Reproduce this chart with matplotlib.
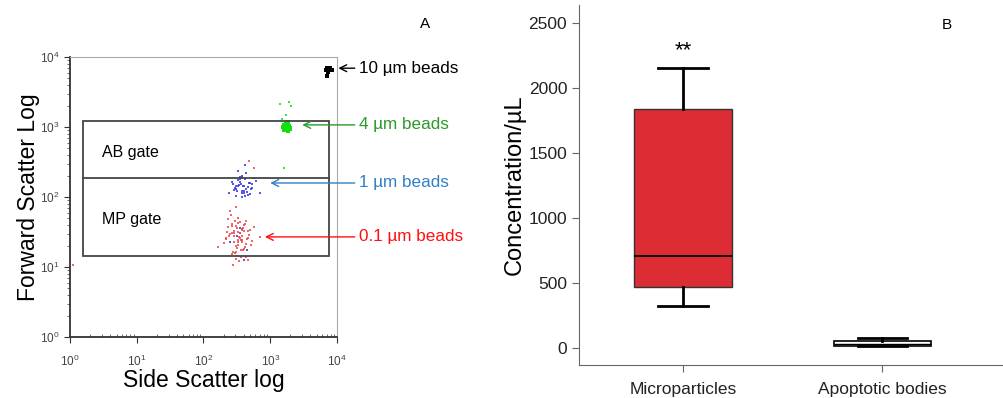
import numpy as np
import matplotlib
matplotlib.use("Agg")
import matplotlib.pyplot as plt
from matplotlib.patches import Rectangle

plt.rcParams['font.family'] = ['Liberation Sans', 'DejaVu Sans']
plt.rcParams['mathtext.fontset'] = 'custom'
plt.rcParams['mathtext.rm'] = 'Liberation Sans'

# ---- panel A data (log10 of side scatter / forward scatter) ----
red_x = [2.38, 2.45, 2.52, 2.60, 2.48, 2.55, 2.42, 2.66, 2.50, 2.57, 2.35, 2.62, 2.47, 2.53, 2.70,
         2.44, 2.58, 2.51, 2.40, 2.64, 2.49, 2.56, 2.33, 2.61, 2.46, 2.54, 2.68, 2.43, 2.59, 2.52,
         2.37, 2.65, 2.48, 2.55, 2.41, 2.72, 2.50, 2.57, 2.45, 2.62, 2.30, 2.53, 2.76, 2.47, 2.58,
         2.39, 2.63, 2.51, 2.44, 2.56, 2.22, 2.85, 2.49, 2.60, 2.42, 2.54, 2.67, 2.46, 2.52, 2.58,
         2.68, 2.75, 2.58, 0.05, 2.36, 2.71, 2.49, 2.63, 2.43, 2.56, 2.34, 2.66, 2.51, 2.59]
red_y = [1.45, 1.52, 1.38, 1.60, 1.30, 1.48, 1.62, 1.41, 1.55, 1.35, 1.50, 1.28, 1.66, 1.43, 1.53,
         1.22, 1.39, 1.70, 1.47, 1.33, 1.58, 1.25, 1.42, 1.51, 1.36, 1.64, 1.46, 1.18, 1.56, 1.31,
         1.68, 1.40, 1.12, 1.49, 1.74, 1.37, 1.27, 1.54, 1.44, 1.61, 1.34, 1.08, 1.57, 1.20, 1.45,
         1.80, 1.15, 1.50, 1.03, 1.38, 1.29, 1.43, 1.85, 1.26, 1.59, 1.41, 1.10, 1.48, 1.35, 1.53,
         2.52, 2.42, 2.28, 1.03, 1.57, 1.32, 1.21, 1.66, 1.49, 1.14, 1.40, 1.52, 1.63, 1.24]

blue_x = [2.45, 2.52, 2.60, 2.68, 2.55, 2.48, 2.63, 2.72, 2.58, 2.50, 2.66, 2.42, 2.57, 2.75, 2.53,
          2.61, 2.47, 2.69, 2.55, 2.64, 2.38, 2.59, 2.71, 2.51, 2.62, 2.56, 2.78, 2.49, 2.65, 2.54,
          2.60, 2.44, 2.67, 2.57, 2.73, 2.52, 2.62, 2.58, 2.48, 2.70, 2.40, 2.55, 2.65, 2.50, 2.60,
          2.62, 2.85]
blue_y = [2.10, 2.15, 2.05, 2.20, 2.25, 2.02, 2.12, 2.18, 2.30, 2.08, 2.14, 2.22, 2.00, 2.27, 2.17,
          2.09, 2.13, 2.04, 2.21, 2.34, 2.06, 2.16, 2.11, 2.24, 2.01, 2.19, 2.23, 2.12, 2.07, 2.28,
          2.15, 2.18, 2.03, 2.09, 2.13, 2.37, 2.25, 2.05, 2.16, 2.20, 1.35, 1.55, 1.25, 1.45, 1.10,
          2.45, 2.05]

green_x = [3.22, 3.25, 3.28, 3.20, 3.27, 3.24, 3.30, 3.21, 3.26, 3.23, 3.29, 3.25, 3.19, 3.27,
           3.24, 3.22, 3.28, 3.26, 3.23, 3.25]
green_y = [3.00, 2.98, 3.02, 2.96, 3.04, 3.01, 2.99, 3.03, 2.95, 3.06, 2.97, 3.02, 3.00, 2.94,
           3.05, 2.99, 3.01, 3.07, 2.97, 3.03]
green_out_x = [3.15, 3.28, 3.31, 3.20, 3.24, 3.18]
green_out_y = [3.33, 3.36, 3.30, 2.42, 3.17, 3.12]

black_x = [3.84, 3.86, 3.88, 3.90, 3.92, 3.85, 3.87, 3.89, 3.91, 3.86, 3.88, 3.90, 3.85]
black_y = [3.82, 3.81, 3.83, 3.82, 3.81, 3.84, 3.80, 3.83, 3.82, 3.79, 3.81, 3.84, 3.73]

gate_x = [1.55, 7600]          # left / right edge of gates
gate_y = [14.2, 185, 1230]     # MP bottom, MP/AB border, AB top

bead_labels = ['10 µm beads', '4 µm beads', '1 µm beads', '0.1 µm beads']
bead_colors = ['black', '#2a9a2a', '#2f80c8', '#ff1010']
bead_tips = [(10**4.02, 10**3.84), (10**3.48, 10**3.03), (10**3.0, 10**2.2), (10**2.92, 10**1.43)]

# ---- panel B data ----
categories = ['Microparticles', 'Apoptotic bodies']
box_stats = [dict(whislo=321, q1=468, med=709, q3=1842, whishi=2158),
             dict(whislo=10, q1=16, med=25, q3=52, whishi=77)]

fig = plt.figure(figsize=(10.04, 3.98), dpi=100)

# ================= panel A =================
ax = fig.add_axes([70/1004, 61/398, 267/1004, 280/398])
ax.set_xscale('log')
ax.set_yscale('log')
ax.set_xlim(1, 1e4)
ax.set_ylim(1, 1e4)

ax.scatter(10**np.array(black_x), 10**np.array(black_y), s=5, marker='s', color='black', lw=0)
ax.scatter(10**np.array(green_x), 10**np.array(green_y), s=10, marker='s', color='#10e010', lw=0)
ax.scatter(10**np.array(green_out_x), 10**np.array(green_out_y), s=3, marker='s', color='#40e040', lw=0)
ax.scatter(10**np.array(red_x), 10**np.array(red_y), s=3, marker='s', color='#ee4040', alpha=0.8, lw=0)
ax.scatter(10**np.array(blue_x), 10**np.array(blue_y), s=3, marker='s', color='#3030e0', alpha=0.8, lw=0)

ax.add_patch(Rectangle((gate_x[0], gate_y[0]), gate_x[1] - gate_x[0], gate_y[2] - gate_y[0],
                       fill=False, ec='#444444', lw=1.3))
ax.plot(gate_x, [gate_y[1], gate_y[1]], color='#444444', lw=1.3)
ax.text(0.12, 0.66, 'AB gate', transform=ax.transAxes, fontsize=11.5, va='center')
ax.text(0.12, 0.42, 'MP gate', transform=ax.transAxes, fontsize=11.5, va='center')

for lab, col, tip in zip(bead_labels, bead_colors, bead_tips):
    ty = np.log10(tip[1]) / 4
    ax.annotate(lab, xy=tip, xytext=(1.082, ty), textcoords='axes fraction',
                color=col, fontsize=12.3, va='center', ha='left', annotation_clip=False,
                arrowprops=dict(arrowstyle='->', color=col, lw=1.0, shrinkA=1, shrinkB=0,
                                relpos=(0, 0.5)))

for side in ['top', 'right']:
    ax.spines[side].set_color('#aaaaaa')
for side in ['left', 'bottom']:
    ax.spines[side].set_color('#333333')
    ax.spines[side].set_linewidth(1.3)
ax.tick_params(which='major', length=4, color='#333333', labelsize=8.5, labelcolor='#444444')
ax.tick_params(axis='x', which='minor', direction='in', length=2.5, color='#555555')
ax.tick_params(axis='y', which='minor', direction='out', length=2.5, color='#555555')
ax.tick_params(axis='x', pad=8)
fig.canvas.draw()
ax.get_yticklabels()[0].set_fontsize(11.5)
ax.set_xlabel('Side Scatter log', fontsize=16.5, labelpad=0)
ax.set_ylabel('Forward Scatter Log', fontsize=16.5, labelpad=0)
fig.text(425/1004, 1 - 24/398, 'A', fontsize=11, ha='center', va='center')

# ================= panel B =================
bx = fig.add_axes([579/1004, 33/398, 425/1004, 360/398])
bxp = bx.bxp(box_stats, positions=[0, 1], widths=0.49, showfliers=False, patch_artist=True,
             boxprops=dict(lw=1.0, edgecolor='#333333'),
             whiskerprops=dict(lw=2, color='black'),
             capprops=dict(lw=2, color='black'),
             medianprops=dict(lw=1.3, color='black'), capwidths=0.25)
bxp['boxes'][0].set_facecolor('#dc2d34')
bxp['boxes'][1].set_facecolor('white')
bxp['boxes'][1].set_edgecolor('black')
bxp['boxes'][1].set_linewidth(1.2)
bxp['medians'][1].set_linewidth(1.0)
bx.set_xlim(-0.523, 1.61)
bx.set_ylim(-133, 2640)
bx.set_yticks([0, 500, 1000, 1500, 2000, 2500])
bx.set_xticks([0, 1])
bx.set_xticklabels(categories)
for side in ['top', 'right']:
    bx.spines[side].set_visible(False)
for side in ['left', 'bottom']:
    bx.spines[side].set_color('#666666')
bx.tick_params(length=5, color='#666666', labelsize=12.5, labelcolor='#222222')
bx.tick_params(axis='x', pad=7)
bx.set_ylabel('Concentration/µL', fontsize=17, labelpad=2)
bx.text(0, 2290, '**', fontsize=16, ha='center', va='center')
fig.text(947/1004, 1 - 25/398, 'B', fontsize=11, ha='center', va='center')

fig.savefig('out.png', dpi=100)
